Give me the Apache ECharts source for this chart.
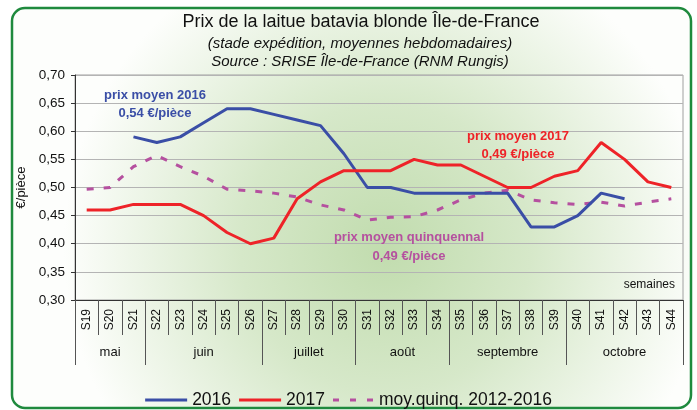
<!DOCTYPE html>
<html>
<head>
<meta charset="utf-8">
<script src="https://cdn.jsdelivr.net/npm/echarts@6/dist/echarts.min.js"></script>
<style>
html, body { margin: 0; padding: 0; background: #fff; }
#chart { width: 697px; height: 410px; }
</style>
</head>
<body>
<div id="chart"></div>
<script>
var weeks = ['S19','S20','S21','S22','S23','S24','S25','S26','S27','S28','S29','S30','S31',
    'S32','S33','S34','S35','S36','S37','S38','S39','S40','S41','S42','S43','S44'];
var months = ['mai','juin','juillet','août','septembre','octobre'];
// nombre de semaines par mois
var monthWeeks = [3, 5, 4, 4, 5, 5];

var prix2016 = [null, null, 0.59, 0.58, 0.59, 0.615, 0.64, 0.64, 0.63, 0.62, 0.61, 0.56, 0.50,
    0.50, 0.49, 0.49, 0.49, 0.49, 0.49, 0.43, 0.43, 0.45, 0.49, 0.48, null, null];
var prix2017 = [0.46, 0.46, 0.47, 0.47, 0.47, 0.45, 0.42, 0.40, 0.41, 0.48, 0.51, 0.53, 0.53,
    0.53, 0.55, 0.54, 0.54, 0.52, 0.50, 0.50, 0.52, 0.53, 0.58, 0.55, 0.51, 0.50];
var moyQuinq = [0.497, 0.50, 0.537, 0.557, 0.537, 0.52, 0.497, 0.494, 0.49, 0.483, 0.469, 0.46, 0.442,
    0.447, 0.448, 0.46, 0.478, 0.49, 0.495, 0.478, 0.473, 0.47, 0.474, 0.467, 0.474, 0.48];

// limites et milieux des mois (en nombre de semaines)
var monthBounds = [0];
var monthMids = [];
monthWeeks.forEach(function (n, i) {
    monthMids.push(monthBounds[i] + n / 2);
    monthBounds.push(monthBounds[i] + n);
});

var chart = echarts.init(document.getElementById('chart'));
var font = '"Liberation Sans", Arial, sans-serif';

chart.setOption({
    textStyle: { fontFamily: font },
    graphic: [
        {
            type: 'rect',
            z: -10,
            shape: { x: 12, y: 8, width: 679, height: 400, r: 13 },
            style: {
                fill: new echarts.graphic.RadialGradient(0.55, 0.6, 0.8, [
                    { offset: 0, color: '#c1dcae' },
                    { offset: 0.45, color: '#d6e8c9' },
                    { offset: 1, color: '#fdfefc' }
                ]),
                stroke: '#1f8a3e',
                lineWidth: 2.5
            }
        },
        { type: 'text', z: 10, x: 361, y: 22,
          style: { text: 'Prix de la laitue batavia blonde Île-de-France', font: '18px ' + font, fill: '#111', align: 'center', verticalAlign: 'middle' } },
        { type: 'text', z: 10, x: 360, y: 44,
          style: { text: '(stade expédition, moyennes hebdomadaires)', font: 'italic 15px ' + font, fill: '#111', align: 'center', verticalAlign: 'middle' } },
        { type: 'text', z: 10, x: 360, y: 62,
          style: { text: 'Source : SRISE Île-de-France (RNM Rungis)', font: 'italic 15px ' + font, fill: '#111', align: 'center', verticalAlign: 'middle' } },
        { type: 'text', z: 10, x: 155, y: 104,
          style: { text: 'prix moyen 2016\n0,54 €/pièce', font: 'bold 13px ' + font, lineHeight: 18, fill: '#3a4ea6', align: 'center', verticalAlign: 'middle' } },
        { type: 'text', z: 10, x: 518, y: 145,
          style: { text: 'prix moyen 2017\n0,49 €/pièce', font: 'bold 13px ' + font, lineHeight: 18, fill: '#ee2328', align: 'center', verticalAlign: 'middle' } },
        { type: 'text', z: 10, x: 409, y: 247,
          style: { text: 'prix moyen quinquennal\n0,49 €/pièce', font: 'bold 13px ' + font, lineHeight: 19, fill: '#b5509f', align: 'center', verticalAlign: 'middle' } },
        { type: 'text', z: 10, x: 675, y: 285,
          style: { text: 'semaines', font: '12px ' + font, fill: '#111', align: 'right', verticalAlign: 'middle' } }
    ],
    legend: {
        top: 386,
        left: 'center',
        itemWidth: 42,
        itemHeight: 3,
        itemGap: 8,
        textStyle: { fontSize: 17.5, color: '#111', fontFamily: font },
        data: [
            { name: '2016', icon: 'rect' },
            { name: '2017', icon: 'rect' },
            { name: 'moy.quinq. 2012-2016', icon: 'path://M0,0h6v3h-6zM17,0h6v3h-6zM34,0h6v3h-6z' }
        ]
    },
    grid: {
        left: 75,
        right: 14,
        top: 75,
        bottom: 110,
        show: true,
        borderColor: '#a0a0a0',
        borderWidth: 1,
        backgroundColor: 'transparent'
    },
    xAxis: [
        {
            type: 'category',
            data: weeks,
            boundaryGap: true,
            axisLine: { lineStyle: { color: '#333', width: 1 } },
            axisTick: { show: true, interval: 0, length: 35, lineStyle: { color: '#555' } },
            axisLabel: { interval: 0, rotate: 90, margin: 9, fontSize: 12, color: '#111' },
            splitLine: { show: false }
        },
        {
            type: 'value',
            position: 'bottom',
            min: 0,
            max: weeks.length,
            axisLine: { show: false },
            axisTick: { show: true, length: 65, customValues: monthBounds, lineStyle: { color: '#555' } },
            axisLabel: {
                customValues: monthMids,
                margin: 46,
                fontSize: 13,
                color: '#111',
                formatter: function (v) {
                    return months[monthMids.indexOf(v)];
                }
            },
            splitLine: { show: false }
        }
    ],
    yAxis: {
        type: 'value',
        min: 0.3,
        max: 0.7,
        interval: 0.05,
        name: '€/pièce',
        nameLocation: 'middle',
        nameRotate: 90,
        nameGap: 43,
        nameTextStyle: { fontSize: 13, color: '#111' },
        axisLine: { show: true, lineStyle: { color: '#333' } },
        axisTick: { show: true, length: 4, lineStyle: { color: '#333' } },
        axisLabel: {
            margin: 10,
            fontSize: 13.5,
            color: '#111',
            formatter: function (v) { return v.toFixed(2).replace('.', ','); }
        },
        splitLine: { lineStyle: { color: '#b4b4b4', width: 1 } }
    },
    series: [
        {
            name: '2016',
            type: 'line',
            data: prix2016,
            symbol: 'none',
            connectNulls: false,
            color: '#3a4ea6',
            lineStyle: { color: '#3a4ea6', width: 3 },
            z: 4
        },
        {
            name: '2017',
            type: 'line',
            data: prix2017,
            symbol: 'none',
            color: '#ee2328',
            lineStyle: { color: '#ee2328', width: 3 },
            z: 5
        },
        {
            name: 'moy.quinq. 2012-2016',
            type: 'line',
            data: moyQuinq,
            symbol: 'none',
            color: '#b5509f',
            lineStyle: { color: '#b5509f', width: 3, type: [7, 10] },
            z: 3
        }
    ]
});
</script>
</body>
</html>
